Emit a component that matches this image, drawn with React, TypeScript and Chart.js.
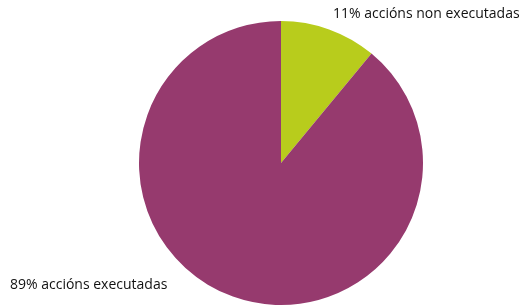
import React, { useEffect, useRef } from "react";
import { Chart, registerables } from "chart.js";

Chart.register(...registerables);

const categories = ["accións non executadas", "accións executadas"];
const values = [11, 89];
const colors = ["#b8cc1c", "#963a6e"];

const labelPlugin = {
  id: "sliceLabels",
  afterDraw(chart: any) {
    const ctx = chart.ctx;
    ctx.save();
    ctx.font = "14px 'Open Sans'";
    ctx.fillStyle = "#111";
    ctx.textBaseline = "alphabetic";
    const texts = categories.map((c, i) => `${values[i]}% ${c}`);
    ctx.textAlign = "left";
    ctx.fillText(texts[0], 333, 18);
    ctx.fillText(texts[1], 10, 289);
    ctx.restore();
  },
};

export default function App() {
  const ref = useRef<HTMLCanvasElement>(null);
  useEffect(() => {
    const chart = new Chart(ref.current!, {
      type: "pie",
      data: {
        labels: categories,
        datasets: [
          {
            data: values,
            backgroundColor: colors,
            borderWidth: 0,
          },
        ],
      },
      options: {
        responsive: false,
        animation: false,
        layout: { padding: { left: 139, right: 105, top: 21, bottom: 1 } },
        plugins: { legend: { display: false }, tooltip: { enabled: false } },
      },
      plugins: [labelPlugin],
    });
    return () => chart.destroy();
  }, []);
  return (
    <div style={{ position: "absolute", left: 0, top: 0, width: 528, height: 306, background: "#fff" }}>
      <canvas ref={ref} width={528} height={306} />
    </div>
  );
}
